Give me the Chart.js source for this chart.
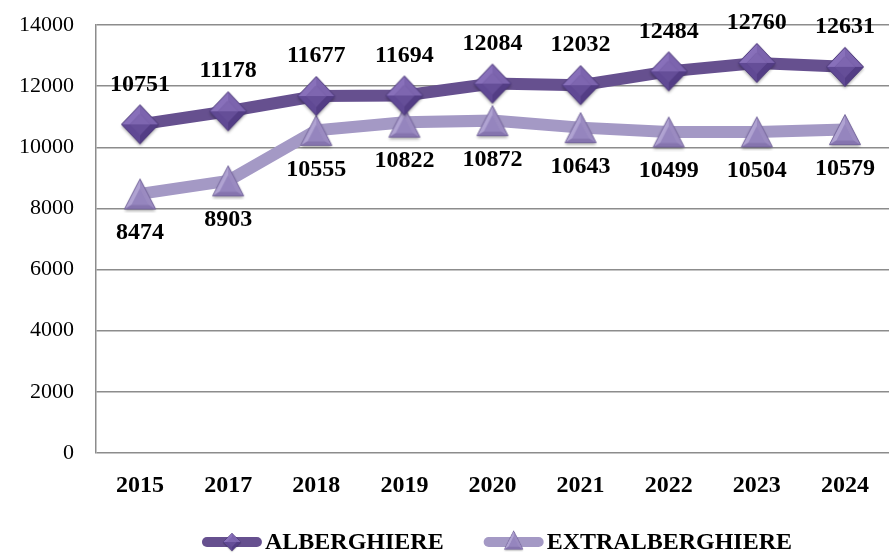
<!DOCTYPE html>
<html>
<head>
<meta charset="utf-8">
<script src="https://cdn.jsdelivr.net/npm/chart.js@4"></script>
<style>
  html, body { margin: 0; padding: 0; background: #fff; }
  #wrap { width: 894px; height: 553px; }
</style>
</head>
<body>
<div id="wrap"><canvas id="presenzeChart"></canvas></div>
<script>
const years = ['2015', '2017', '2018', '2019', '2020', '2021', '2022', '2023', '2024']
const alberghiere = [10751, 11178, 11677, 11694, 12084, 12032, 12484, 12760, 12631]
const extralberghiere = [8474, 8903, 10555, 10822, 10872, 10643, 10499, 10504, 10579]
const yTicks = [0, 2000, 4000, 6000, 8000, 10000, 12000, 14000]

const darkLine = '#66508f'
const lightLine = '#a499c5'
const serif = "'Liberation Serif', 'Times New Roman', serif"

// bevelled marker images, used as pointStyle (m = margin kept for the shadow)
const m = 4
function poly(ctx, pts, fill) {
    ctx.beginPath()
    ctx.moveTo(pts[0][0], pts[0][1])
    for (let k = 1; k < pts.length; k++) ctx.lineTo(pts[k][0], pts[k][1])
    ctx.closePath()
    ctx.fillStyle = fill
    ctx.fill()
}
function withShadow(ctx, pts, fill) {
    ctx.save()
    ctx.shadowColor = 'rgba(0,0,0,0.35)'
    ctx.shadowBlur = 3
    ctx.shadowOffsetY = 2
    poly(ctx, pts, fill)
    ctx.restore()
}
function makeDiamond(w, h) {
    const c = document.createElement('canvas')
    c.width = w + 2 * m; c.height = h + 2 * m
    const ctx = c.getContext('2d')
    ctx.translate(m, m)
    const cx = w / 2, cy = h / 2
    const T = [cx, 0.5], R = [w - 0.5, cy], B = [cx, h - 0.5], L = [0.5, cy]
    const k = 0.55
    const t = [cx, cy - (cy - 0.5) * k], r = [cx + (cx - 0.5) * k, cy], b = [cx, cy + (cy - 0.5) * k], l = [cx - (cx - 0.5) * k, cy]
    withShadow(ctx, [T, R, B, L], '#6a539a')
    poly(ctx, [L, T, t, l], '#8870ba')
    poly(ctx, [T, R, r, t], '#7c64ae')
    poly(ctx, [R, B, b, r], '#533d85')
    poly(ctx, [B, L, l, b], '#604994')
    poly(ctx, [l, t, r], '#7e66b0')
    poly(ctx, [l, r, b], '#654e98')
    ctx.beginPath()
    ctx.moveTo(T[0], T[1]); ctx.lineTo(R[0], R[1]); ctx.lineTo(B[0], B[1]); ctx.lineTo(L[0], L[1]); ctx.closePath()
    ctx.strokeStyle = '#4d3a7a'
    ctx.lineWidth = 1
    ctx.stroke()
    return c
}
function makeTriangle(w, h) {
    const c = document.createElement('canvas')
    c.width = w + 2 * m; c.height = h + 2 * m
    const ctx = c.getContext('2d')
    ctx.translate(m, m)
    const A = [w / 2, 0.5], BR = [w - 0.5, h - 0.5], BL = [0.5, h - 0.5]
    const g = [w / 2, h * 0.68]
    const k = 0.55
    const inner = [A, BR, BL].map(p => [g[0] + (p[0] - g[0]) * k, g[1] + (p[1] - g[1]) * k])
    withShadow(ctx, [A, BR, BL], '#a799cb')
    poly(ctx, [A, inner[0], inner[2], BL], '#b0a3d2')
    poly(ctx, [A, BR, inner[1], inner[0]], '#9b8bc1')
    poly(ctx, [BL, BR, inner[1], inner[2]], '#8574ae')
    poly(ctx, inner, '#9585be')
    ctx.beginPath()
    ctx.moveTo(A[0], A[1]); ctx.lineTo(BR[0], BR[1]); ctx.lineTo(BL[0], BL[1]); ctx.closePath()
    ctx.strokeStyle = '#76679d'
    ctx.lineWidth = 1
    ctx.stroke()
    return c
}
const diamondImg = makeDiamond(38, 40)
const triangleImg = makeTriangle(32, 31)

// value labels: above for the first series, below for the second
const valueLabels = {
    id: 'valueLabels',
    afterDatasetsDraw(chart) {
        const ctx = chart.ctx
        ctx.save()
        ctx.font = 'bold 24px ' + serif
        ctx.fillStyle = '#000'
        ctx.textAlign = 'center'
        ctx.textBaseline = 'middle'
        chart.data.datasets.forEach((ds, i) => {
            const meta = chart.getDatasetMeta(i)
            meta.data.forEach((pt, j) => {
                const dy = i == 0 ? -40 : 39
                ctx.fillText(ds.data[j], pt.x, pt.y + dy)
            })
        })
        ctx.restore()
    }
}

// legend drawn by hand: thick line, marker on it, bold label
const lineLegend = {
    id: 'lineLegend',
    afterDraw(chart) {
        const ctx = chart.ctx
        const lineW = 60, gap = 3, itemGap = 40
        const cy = 542, centerX = 497
        const marks = [[diamondImg, 22, 22], [triangleImg, 24, 24]]
        ctx.save()
        ctx.font = 'bold 24px ' + serif
        const items = chart.data.datasets.map(ds => ({ ds, tw: ctx.measureText(ds.label).width }))
        let total = 0
        items.forEach(it => total += lineW + gap + it.tw)
        total += itemGap * (items.length - 1)
        let x = centerX - total / 2
        items.forEach((it, i) => {
            const ds = it.ds
            ctx.strokeStyle = ds.borderColor
            ctx.lineWidth = 10
            ctx.lineCap = 'round'
            ctx.beginPath()
            ctx.moveTo(x + 5, cy)
            ctx.lineTo(x + lineW - 5, cy)
            ctx.stroke()
            const [img, mw, mh] = marks[i]
            ctx.drawImage(img, x + lineW / 2 - mw / 2, cy - mh / 2 + (i == 1 ? -2 : 0), mw, mh)
            ctx.fillStyle = '#000'
            ctx.textAlign = 'left'
            ctx.textBaseline = 'middle'
            ctx.fillText(ds.label, x + lineW + gap, cy + 1)
            x += lineW + gap + it.tw + itemGap
        })
        ctx.restore()
    }
}

new Chart('presenzeChart', {
    type: 'line',
    data: {
        labels: years,
        datasets: [
            {
                label: 'ALBERGHIERE',
                data: alberghiere,
                borderColor: darkLine,
                backgroundColor: darkLine,
                borderWidth: 12,
                pointStyle: diamondImg,
                pointRadius: 19,
                tension: 0
            },
            {
                label: 'EXTRALBERGHIERE',
                data: extralberghiere,
                borderColor: lightLine,
                backgroundColor: lightLine,
                borderWidth: 12,
                pointStyle: triangleImg,
                pointRadius: 16,
                tension: 0
            }
        ]
    },
    options: {
        responsive: true,
        maintainAspectRatio: false,
        animation: false,
        clip: false,
        layout: {
            autoPadding: false,
            padding: { top: 25, right: 5, left: 0, bottom: 55 }
        },
        plugins: {
            legend: { display: false },
            tooltip: { enabled: false }
        },
        scales: {
            x: {
                offset: true,
                grid: { display: false, drawTicks: false },
                border: { display: false },
                ticks: {
                    color: '#000',
                    padding: 18,
                    font: { family: serif, size: 24, weight: 'bold' }
                },
                afterFit(scale) { scale.height = 45 }
            },
            y: {
                min: 0,
                max: 14000,
                afterBuildTicks(scale) { scale.ticks = yTicks.map(v => ({ value: v })) },
                grid: { color: '#8c8c8c', lineWidth: 1.5, drawTicks: true, tickLength: 20, tickColor: 'rgba(0,0,0,0)' },
                border: { color: '#8c8c8c', width: 1.5 },
                ticks: {
                    color: '#000',
                    padding: 2,
                    font: { family: serif, size: 22 },
                    callback: v => String(v)
                },
                afterFit(scale) { scale.width = 96 }
            }
        }
    },
    plugins: [valueLabels, lineLegend]
})
</script>
</body>
</html>
